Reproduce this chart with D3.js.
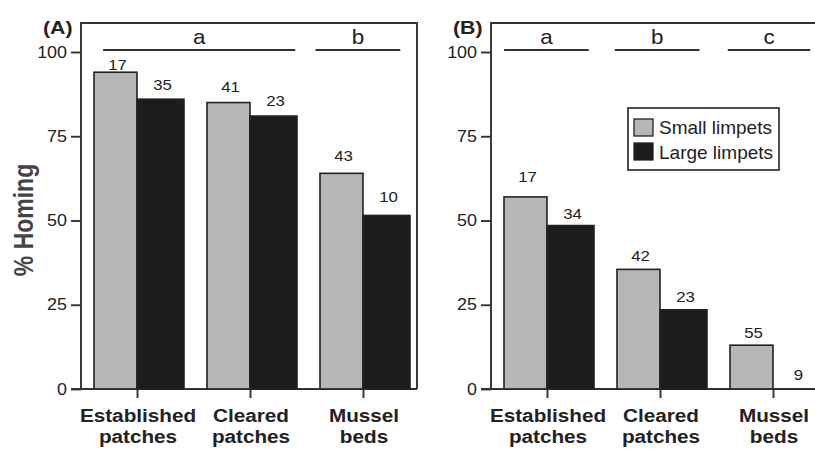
<!DOCTYPE html>
<html>
<head>
<meta charset="utf-8">
<script src="https://cdn.jsdelivr.net/npm/d3@7"></script>
<style>
  body { margin: 0; background: #fff; }
  text { font-family: "Liberation Sans", Arial, sans-serif; fill: #222; }
</style>
</head>
<body>
<div id="chart"></div>
<script>
// data
const categories = [["Established", "patches"], ["Cleared", "patches"], ["Mussel", "beds"]];
const seriesNames = ["Small limpets", "Large limpets"];
const yTicks = [0, 25, 50, 75, 100];

// panel A
const smallA = [94, 85, 64];
const largeA = [86, 81, 51.5];
const nSmallA = [17, 41, 43];
const nLargeA = [35, 23, 10];
const sigA = [{ label: "a", from: -0.3, to: 1.4 }, { label: "b", from: 1.58, to: 2.33 }];

// panel B
const smallB = [57, 35.5, 13];
const largeB = [48.5, 23.5, 0];
const nSmallB = [17, 42, 55];
const nLargeB = [34, 23, 9];
const sigB = [{ label: "a", from: -0.38, to: 0.37 }, { label: "b", from: 0.6, to: 1.35 }, { label: "c", from: 1.6, to: 2.33 }];

// label gaps above bar tops (px), as placed in the original figure
const gapA = { small: [2, 11, 12], large: [9, 10, 13] };
const gapB = { small: [15, 8, 7], large: [7, 8, 9] };

// constants
const W = 815, H = 449;
const frameTop = 23;
const panelW = 336;
const smallW = 43, largeW = 47;
const sx = 1.12; // horizontal stretch of text
const axisColor = "#333";

const svg = d3.select("#chart").append("svg")
  .attr("width", W).attr("height", H);

const y = d3.scaleLinear().domain([0, 100]).range([389, 52]);

function stretchText(g, x, yy, txt, size, weight, anchor) {
  return g.append("text")
    .attr("transform", `translate(${x},${yy}) scale(${sx},1)`)
    .attr("text-anchor", anchor || "middle")
    .style("font-size", size + "px")
    .style("font-weight", weight || "normal")
    .text(txt);
}

function drawPanel(left, name, small, large, nSmall, nLarge, sig, gap) {
  const g = svg.append("g");
  const right = left + panelW;
  const x = d3.scaleLinear().domain([0, 2]).range([left + 56, left + 282]);

  // frame
  g.append("path")
    .attr("d", `M${left},${y(0)}V${frameTop}H${right}V${y(0)}`)
    .attr("fill", "none").attr("stroke", axisColor).attr("stroke-width", 1.9);
  g.append("line")
    .attr("x1", left - 10).attr("x2", right)
    .attr("y1", y(0)).attr("y2", y(0))
    .attr("stroke", axisColor).attr("stroke-width", 1.9);

  // y axis
  const ya = g.append("g")
    .attr("transform", `translate(${left},0)`)
    .call(d3.axisLeft(y).tickValues(yTicks).tickSize(10).tickFormat(""));
  ya.select(".domain").remove();
  ya.selectAll("line").attr("stroke", axisColor).attr("stroke-width", 1.9);
  yTicks.forEach(t => stretchText(g, left - 14, y(t) + 5.5, t, 16, "normal", "end"));

  // bars
  g.selectAll(".small").data(small).enter().append("rect")
    .attr("x", (d, i) => x(i) - smallW)
    .attr("y", d => y(d))
    .attr("width", smallW)
    .attr("height", d => y(0) - y(d))
    .attr("fill", "#b6b6b6").attr("stroke", "#222").attr("stroke-width", 1.6);
  g.selectAll(".large").data(large).enter().append("rect")
    .attr("x", (d, i) => x(i))
    .attr("y", d => y(d))
    .attr("width", largeW)
    .attr("height", d => y(0) - y(d))
    .attr("fill", "#1c1c1c").attr("stroke", "#222").attr("stroke-width", 1.6);

  // sample sizes
  nSmall.forEach((n, i) => stretchText(g, x(i) - smallW / 2 + 2, y(small[i]) - gap.small[i], n, 15));
  nLarge.forEach((n, i) => stretchText(g, x(i) + largeW / 2 + 2, y(large[i]) - gap.large[i], n, 15));

  // x ticks and labels
  const xa = g.append("g")
    .attr("transform", `translate(0,${y(0)})`)
    .call(d3.axisBottom(x).tickValues([0, 1, 2]).tickSize(9).tickFormat(""));
  xa.select(".domain").remove();
  xa.selectAll("line").attr("stroke", axisColor).attr("stroke-width", 1.9);
  categories.forEach((c, i) => {
    stretchText(g, x(i) + 1, 422, c[0], 18.5, "bold");
    stretchText(g, x(i) + 1, 443, c[1], 18.5, "bold");
  });

  // significance groups
  sig.forEach(s => {
    g.append("line")
      .attr("x1", x(s.from)).attr("x2", x(s.to))
      .attr("y1", 50).attr("y2", 50)
      .attr("stroke", axisColor).attr("stroke-width", 1.9);
    stretchText(g, (x(s.from) + x(s.to)) / 2, 44, s.label, 20);
  });

  // panel label
  stretchText(g, left - 38, 34, name, 19, "bold", "start");
}

drawPanel(81, "(A)", smallA, largeA, nSmallA, nLargeA, sigA, gapA);
drawPanel(491, "(B)", smallB, largeB, nSmallB, nLargeB, sigB, gapB);

// y title
svg.append("text")
  .attr("transform", "translate(33,220) rotate(-90) scale(1,1.2)")
  .attr("text-anchor", "middle")
  .style("font-size", "23px").style("font-weight", "bold").style("fill", "#444")
  .text("% Homing");

// legend
const legend = svg.append("g");
legend.append("rect")
  .attr("x", 628).attr("y", 108).attr("width", 151).attr("height", 62)
  .attr("fill", "#fff").attr("stroke", "#222").attr("stroke-width", 1.6);
const swatch = d3.scaleOrdinal().domain(seriesNames).range(["#b6b6b6", "#1c1c1c"]);
seriesNames.forEach((s, i) => {
  legend.append("rect")
    .attr("x", 634).attr("y", 119 + i * 24).attr("width", 19).attr("height", 17)
    .attr("fill", swatch(s)).attr("stroke", "#222").attr("stroke-width", 1.3);
  legend.append("text")
    .attr("x", 659).attr("y", 134 + i * 24.5)
    .style("font-size", "19px")
    .text(s);
});
</script>
</body>
</html>
